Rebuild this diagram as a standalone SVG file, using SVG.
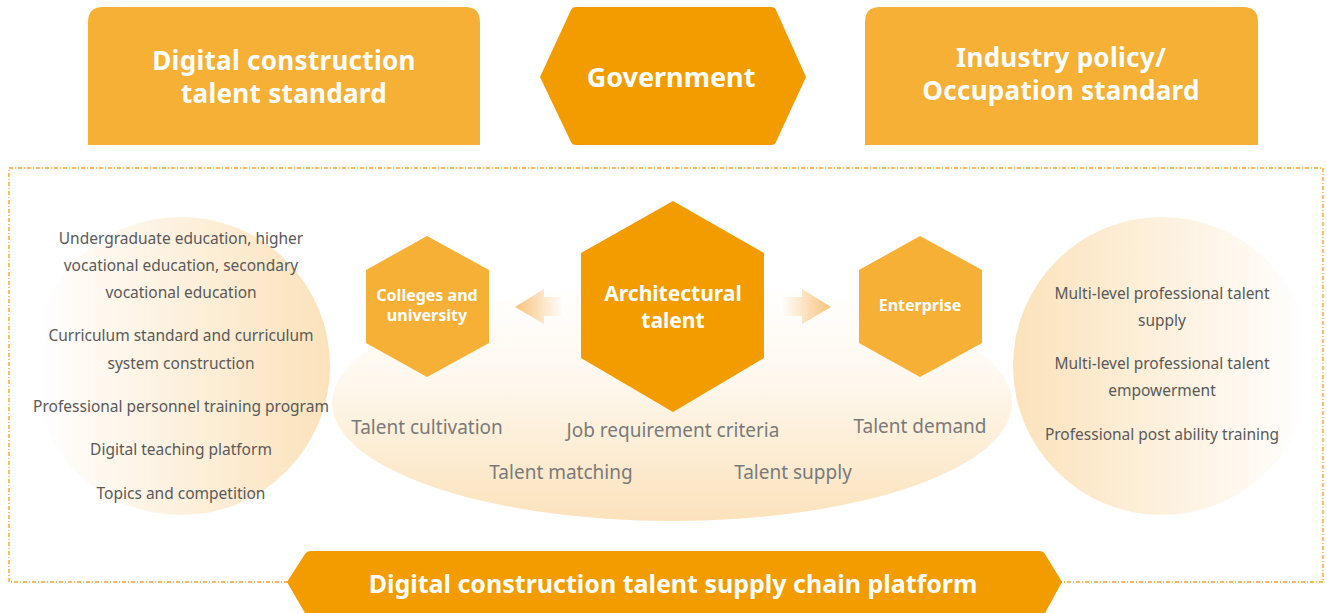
<svg xmlns="http://www.w3.org/2000/svg" width="1327" height="613" viewBox="0 0 1327 613">
<defs>
<style>
.light{fill:#F5B035}
.dark{fill:#F39C00}
.wt{fill:#fff;font-family:"Noto Sans","Liberation Sans",sans-serif;font-weight:bold;text-anchor:middle}
.big{font-size:26px;letter-spacing:0.3px}
.gt{fill:#5a5a5a;font-family:"Noto Sans","Liberation Sans",sans-serif;font-size:15.5px;text-anchor:middle}
.lb{fill:#7a7a7a;font-family:"Noto Sans","Liberation Sans",sans-serif;font-size:19px;text-anchor:middle}
</style>
<linearGradient id="gL" x1="0" y1="0" x2="1" y2="0">
<stop offset="0" stop-color="#FFFFFF"/>
<stop offset="1" stop-color="#FBE2BB"/>
</linearGradient>
<linearGradient id="gR" x1="0" y1="0" x2="1" y2="0">
<stop offset="0" stop-color="#FBE2BB"/>
<stop offset="1" stop-color="#FFFFFF"/>
</linearGradient>
<linearGradient id="gE" x1="0" y1="0" x2="0" y2="1">
<stop offset="0" stop-color="#FFFFFF"/>
<stop offset="0.4" stop-color="#FEF8EE"/>
<stop offset="1" stop-color="#FBE2BB"/>
</linearGradient>
<linearGradient id="aL" x1="0" y1="0" x2="1" y2="0">
<stop offset="0" stop-color="#F7C27A"/>
<stop offset="1" stop-color="#FFFFFF"/>
</linearGradient>
<linearGradient id="aR" x1="0" y1="0" x2="1" y2="0">
<stop offset="0" stop-color="#FFFFFF"/>
<stop offset="1" stop-color="#F7C27A"/>
</linearGradient>
</defs>
<rect width="1327" height="613" fill="#fff"/>

<rect x="9" y="168" width="1314" height="414" fill="none" stroke="#F5A623" stroke-width="1.4" stroke-dasharray="4 2 1 2"/>

<g id="bg-shapes">
<circle cx="181" cy="366" r="149" fill="url(#gL)"/>
<circle cx="1162" cy="366" r="149" fill="url(#gR)"/>
<ellipse cx="672" cy="403" rx="340" ry="118" fill="url(#gE)"/>
</g>

<g id="node-standard">
<path class="light" d="M88 145 V22 Q88 7 103 7 H465 Q480 7 480 22 V145 Z"/>
<text class="wt big" x="284" y="70">Digital construction</text>
<text class="wt big" x="284" y="103">talent standard</text>
</g>

<g id="node-government">
<path class="dark" d="M540 77 L571 10 Q572 7 576 7 H771 Q775 7 776 10 L806 77 L776 142 Q775 145 771 145 H576 Q572 145 571 142 Z"/>
<text class="wt" font-size="27" x="671" y="87">Government</text>
</g>

<g id="node-policy">
<path class="light" d="M865 145 V22 Q865 7 880 7 H1243 Q1258 7 1258 22 V145 Z"/>
<text class="wt big" x="1061" y="67">Industry policy/</text>
<text class="wt big" x="1061" y="100">Occupation standard</text>
</g>

<g id="node-colleges">
<polygon class="light" points="427,236 489,270 489,343 427,377 366,343 366,270"/>
<text class="wt" font-size="16" x="427" y="301">Colleges and</text>
<text class="wt" font-size="16" x="427" y="321">university</text>
</g>

<g id="node-talent">
<polygon class="dark" points="673,201 764,253 764,358 673,412 581,358 581,253"/>
<text class="wt" font-size="21" x="673" y="301">Architectural</text>
<text class="wt" font-size="21" x="673" y="328">talent</text>
</g>

<g id="node-enterprise">
<polygon class="light" points="920,236 982,270 982,343 920,377 859,343 859,270"/>
<text class="wt" font-size="16" x="920" y="311">Enterprise</text>
</g>

<g id="connectors">
<polygon fill="url(#aL)" points="515,307 544,289 544,297 564,297 564,316 544,316 544,324"/>
<polygon fill="url(#aR)" points="831,307 802,289 802,297 781,297 781,316 802,316 802,324"/>
</g>

<g id="labels">
<text class="lb" x="427" y="434">Talent cultivation</text>
<text class="lb" x="673" y="437">Job requirement criteria</text>
<text class="lb" x="920" y="433">Talent demand</text>
<text class="lb" x="561" y="479">Talent matching</text>
<text class="lb" x="793" y="479">Talent supply</text>
</g>

<g id="node-schools-list">
<text class="gt" x="181" y="244">Undergraduate education, higher</text>
<text class="gt" x="181" y="271">vocational education, secondary</text>
<text class="gt" x="181" y="298">vocational education</text>
<text class="gt" x="181" y="341">Curriculum standard and curriculum</text>
<text class="gt" x="181" y="369">system construction</text>
<text class="gt" x="181" y="412">Professional personnel training program</text>
<text class="gt" x="181" y="455">Digital teaching platform</text>
<text class="gt" x="181" y="499">Topics and competition</text>
</g>

<g id="node-enterprise-list">
<text class="gt" x="1162" y="299">Multi-level professional talent</text>
<text class="gt" x="1162" y="326">supply</text>
<text class="gt" x="1162" y="369">Multi-level professional talent</text>
<text class="gt" x="1162" y="396">empowerment</text>
<text class="gt" x="1162" y="440">Professional post ability training</text>
</g>

<g id="node-platform">
<path class="dark" d="M287 582 L305 554 Q307 551 311 551 H1039 Q1043 551 1045 554 L1062 582 L1045 613 H305 Z"/>
<text class="wt" font-size="25" x="673" y="593">Digital construction talent supply chain platform</text>
</g>
</svg>
